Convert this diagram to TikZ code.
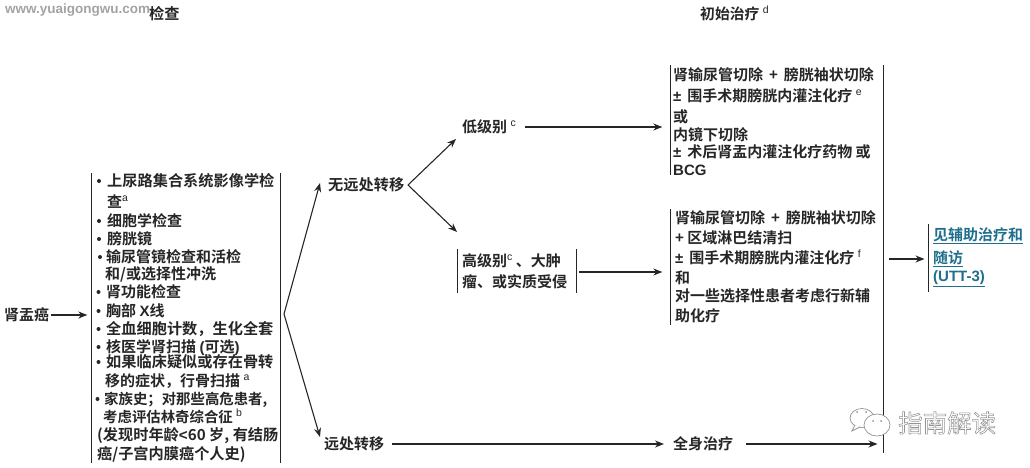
\documentclass[tikz,border=0pt]{standalone}
\usepackage{fontspec}
\usetikzlibrary{arrows.meta}
\setmainfont{Noto Sans CJK SC}[BoldFont={Noto Sans CJK SC Bold}]
\newfontfamily\lat{Liberation Sans}
\newcommand{\sups}[1]{\raisebox{5.5pt}{\fontsize{10.5}{11}\selectfont\mdseries\lat #1}}
\newcommand{\la}[1]{{\lat #1}}
\newcommand{\outl}[1]{\special{pdf:code q 1 Tr 0.55 w 0.58 G}#1\special{pdf:code Q}}
\definecolor{ink}{HTML}{262626}
\definecolor{linkc}{HTML}{1F6E8C}
\tikzset{
  txt/.style={anchor=base west,inner sep=0pt,yshift=-5.2pt,text=ink,font=\fontsize{15}{15}\selectfont\bfseries},
  ttxt/.style={txt,font=\fontsize{14.4}{15}\selectfont\bfseries},
  wtxt/.style={txt,font=\fontsize{15.2}{15}\selectfont\bfseries},
  bullet/.style={circle,fill=ink,draw=none,inner sep=0pt,minimum size=4pt},
  rule/.style={draw=ink,line width=1.1pt},
  arr/.style={draw=ink,line width=1.1pt,-{Stealth[length=9pt,width=7pt]}},
  boxarea/.style={draw=none,inner sep=0pt,rectangle},
  linktxt/.style={txt,text=linkc},
  wm/.style={draw=black!42,line width=0.7pt,fill=white}
}
\begin{document}
\begin{tikzpicture}[x=1pt,y=-1pt]
\useasboundingbox (0,0) rectangle (1030,468);
% watermark top-left
\node[anchor=west,inner sep=0pt,text=black!36,font=\fontsize{13.5}{14}\selectfont\bfseries\lat] (wmtop) at (5,10) {www.yuaigongwu.com};
% headers
\node[wtxt] (hexam) at (149,14) {检查};
\node[txt,font=\fontsize{14.8}{15}\selectfont\bfseries] (htreat) at (700,14) {初始治疗 \sups{d}};
% left
\node[txt] (renal) at (4,315) {肾盂癌};
% exam box
\node[boxarea,minimum width=189pt,minimum height=290pt] (exam) at (186,318) {};
\draw[rule] (exam.north west) -- (exam.south west);
\draw[rule] (exam.north east) -- (exam.south east);
\foreach \n/\bx/\by in {b1/99/181,b2/99/221,b3/99/239,b4/100/257,b5/98.5/292,b6/98.5/311,b7/98.5/329,b8/98.5/347,b9/98.5/362,b10/97.5/399}
  \node[bullet] (\n) at (\bx,\by) {};
\node[wtxt] (e1) at (107,181) {上尿路集合系统影像学检};
\node[txt] (e2) at (107,202) {查\sups{a}};
\node[txt] (e3) at (107,221) {细胞学检查};
\node[txt] (e4) at (107,239) {膀胱镜};
\node[txt] (e5) at (106,257) {输尿管镜检查和活检};
\node[txt] (e6) at (105,274) {和/或选择性冲洗};
\node[txt] (e7) at (106,292) {肾功能检查};
\node[txt] (e8) at (106,311) {胸部 \la{X}线};
\node[wtxt] (e9) at (106,329) {全血细胞计数，生化全套};
\node[txt] (e10) at (106,347) {核医学肾扫描 \la{(}可选\la{)}};
\node[wtxt] (e11) at (106,362) {如果临床疑似或存在骨转};
\node[txt] (e12) at (105,381) {移的症状，行骨扫描 \sups{a}};
\node[ttxt] (e13) at (104,399) {家族史；对那些高危患者,};
\node[ttxt] (e14) at (103,417) {考虑评估林奇综合征 \sups{b}};
\node[wtxt] (e15) at (97,435) {(发现时年龄\la{<}60 岁, 有结肠};
\node[wtxt] (e16) at (97,454) {癌/子宫内膜癌个人史)};
% branch nodes
\node[wtxt] (nomet) at (328,185) {无远处转移};
\node[txt] (met) at (324,444) {远处转移};
\node[txt] (low) at (462,127) {低级别 \sups{c}};
\node[txt] (sys) at (673,444) {全身治疗};
% high grade box
\node[boxarea,minimum width=119pt,minimum height=44pt] (high) at (517,271) {};
\draw[rule] (high.north west) -- (high.south west);
\draw[rule] (high.north east) -- (high.south east);
\node[txt] (h1) at (462,261) {高级别\sups{c} 、大肿};
\node[txt] (h2) at (462,282) {瘤、或实质受侵};
% treatment 1
\node[boxarea,minimum width=213pt,minimum height=110pt] (t1) at (777,120) {};
\draw[rule] (t1.north west) -- (t1.south west);
\node[txt] (t11) at (673,75) {肾输尿管切除 \,+\, 膀胱袖状切除};
\node[txt] (t12) at (673,96) {\la{±} \,围手术期膀胱内灌注化疗 \sups{e}};
\node[txt] (t13) at (673,117) {或};
\node[txt] (t14) at (673,135) {内镜下切除};
\node[txt] (t15) at (673,152) {\la{±} \,术后肾盂内灌注化疗药物 或};
\node[txt] (t16) at (673,170) {\la{BCG}};
% treatment 2
\node[boxarea,minimum width=213pt,minimum height=116pt] (t2) at (777,267) {};
\draw[rule] (t2.north west) -- (t2.south west);
\node[txt] (t21) at (675,218) {肾输尿管切除 \,+\, 膀胱袖状切除};
\node[txt] (t22) at (675,238) {+ 区域淋巴结清扫};
\node[txt] (t23) at (675,258) {\la{±} \,围手术期膀胱内灌注化疗 \sups{f}};
\node[txt] (t24) at (675,278) {和};
\node[txt] (t25) at (675,296) {对一些选择性患者考虑行新辅};
\node[txt] (t26) at (675,316) {助化疗};
% long vertical
\coordinate (vtop) at (883.5,65);
\coordinate (vbot) at (883.5,453);
\draw[rule] (vtop) -- (vbot);
% follow-up box
\node[boxarea,minimum width=100pt,minimum height=68pt,anchor=north west] (fu) at (928.5,224) {};
\draw[rule] (fu.north west) -- (fu.south west);
\node[linktxt] (f1) at (933,235) {\underline{见辅助治疗和}};
\node[linktxt] (f2) at (933,258) {\underline{随访}};
\node[linktxt] (f3) at (933,276) {\underline{\la{(UTT-3)}}};
% connector ends
\coordinate (rout) at (51,315);
\coordinate (lowout) at (525,127);
\coordinate (metout) at (392,444);
\coordinate (sysout) at (746,444);
\coordinate (hub) at (284,314);
\coordinate (hubn) at (320,183);
\coordinate (hubm) at (320,437);
\coordinate (fork) at (408,185);
\coordinate (forkl) at (456,139);
\coordinate (forkh) at (457,232);
\coordinate (highout) at (579,272);
\coordinate (rend) at (889,259);
% connectors
\draw[arr,shorten >=4pt] (rout) -- (exam.west |- rout);
\draw[arr] (hub) -- (hubn);
\draw[arr] (hub) -- (hubm);
\draw[arr] (fork) -- (forkl);
\draw[arr] (fork) -- (forkh);
\draw[arr,shorten >=8pt] (lowout) -- (t1.west |- lowout);
\draw[arr,shorten >=8pt] (highout) -- (t2.west |- highout);
\draw[arr,shorten >=9pt] (metout) -- (sys.west |- metout);
\draw[arr,shorten >=6pt] (sysout) -- (vbot |- sysout);
\draw[arr,shorten >=4pt] (rend) -- (fu.west |- rend);
% WeChat watermark
\draw[wm] (862,418) ellipse (12pt and 9.5pt);
\draw[wm] (855,425) -- (852,431) -- (860,427);
\draw[wm] (877,425) ellipse (13pt and 11pt);
\fill[black!42] (873,421) circle (1pt) (881,421) circle (1pt) (857,412) circle (1pt) (866,412) circle (1pt);
\node[anchor=west,inner sep=0pt,font=\fontsize{24.5}{25}\selectfont\mdseries] (wmr) at (898,423) {\outl{指南解读}};
\end{tikzpicture}
\end{document}
